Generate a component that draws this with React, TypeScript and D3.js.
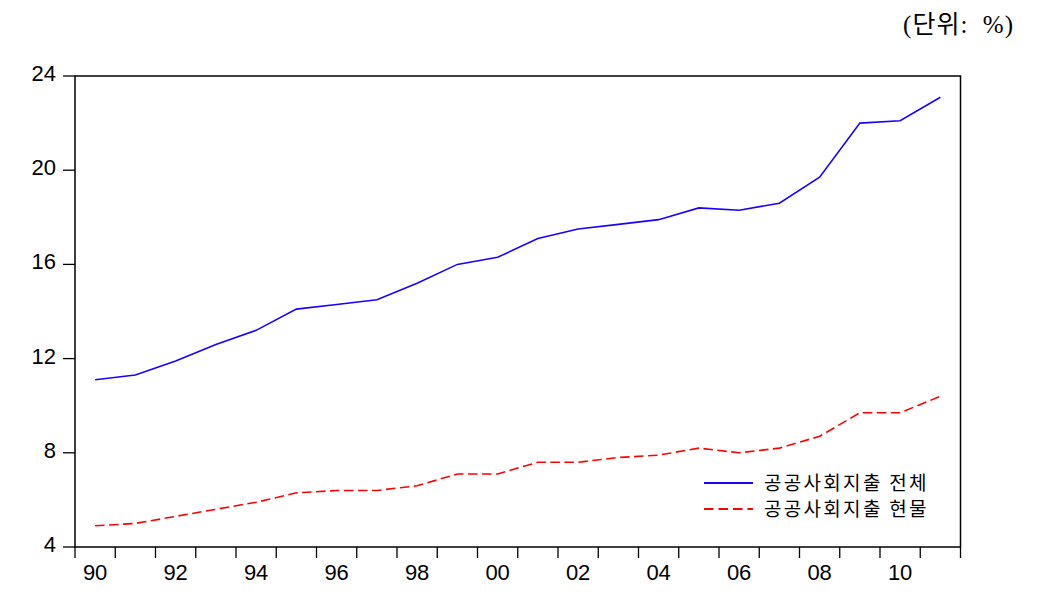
import React from "react";
import * as d3 from "d3";

const years = [1990,1991,1992,1993,1994,1995,1996,1997,1998,1999,2000,2001,2002,2003,2004,2005,2006,2007,2008,2009,2010,2011];
const totalSpend = [11.1,11.3,11.9,12.6,13.2,14.1,14.3,14.5,15.2,16.0,16.3,17.1,17.5,17.7,17.9,18.4,18.3,18.6,19.7,22.0,22.1,23.1];
const inKindSpend = [4.9,5.0,5.3,5.6,5.9,6.3,6.4,6.4,6.6,7.1,7.1,7.6,7.6,7.8,7.9,8.2,8.0,8.2,8.7,9.7,9.7,10.4];
const yTicks = [4,8,12,16,20,24];
const xLabelYears = [1990,1992,1994,1996,1998,2000,2002,2004,2006,2008,2010];
const seriesNames = ["공공사회지출 전체", "공공사회지출 현물"];
const unitLabel = "(단위:  %)";

export default function App() {
  const W = 1043, H = 613;
  const left = 75, right = 960.5, top = 76, bottom = 547;
  const x = d3.scaleLinear().domain([1990, 2012]).range([left, right]);
  const y = d3.scaleLinear().domain([4, 24]).range([bottom, top]);
  const line = d3.line<number>().x((_, i) => x(years[i] + 0.5)).y((d) => y(d));
  const boundaries = d3.range(1990, 2013);
  const font = "'Liberation Sans', Arial, sans-serif";
  const kfont = "'Noto Sans CJK KR', sans-serif";
  return (
    <svg width={W} height={H} style={{ position: "absolute", left: 0, top: 0, background: "#fff" }}>
      <rect x={0} y={0} width={W} height={H} fill="#fff" />
      <text x={1014} y={33} textAnchor="end" fontFamily="'Liberation Serif', 'Noto Sans CJK KR', serif" fontSize={25} letterSpacing={1} fill="#000" style={{ whiteSpace: "pre" }}>{unitLabel}</text>
      <rect x={left} y={top} width={right - left} height={bottom - top} fill="none" stroke="#000" strokeWidth={1.5} />
      {yTicks.map((t) => (
        <g key={t}>
          <line x1={63} x2={left} y1={y(t)} y2={y(t)} stroke="#000" strokeWidth={1.3} />
          <text x={56} y={y(t) + 5} textAnchor="end" fontFamily={font} fontSize={22} fill="#000">{t}</text>
        </g>
      ))}
      {boundaries.map((b) => (
        <line key={b} x1={x(b)} x2={x(b)} y1={bottom} y2={558} stroke="#000" strokeWidth={1.3} />
      ))}
      {xLabelYears.map((yr) => (
        <text key={yr} x={x(yr + 0.5)} y={580} textAnchor="middle" fontFamily={font} fontSize={22} fill="#000">
          {String(yr % 100).padStart(2, "0")}
        </text>
      ))}
      <path d={line(totalSpend) || ""} fill="none" stroke="#1a00ff" strokeWidth={1.6} />
      <path d={line(inKindSpend) || ""} fill="none" stroke="#ff0000" strokeWidth={1.6} strokeDasharray="9.5,4.5" />
      <line x1={704} x2={753} y1={483} y2={483} stroke="#1a00ff" strokeWidth={1.8} />
      <line x1={704} x2={753} y1={509} y2={509} stroke="#ff0000" strokeWidth={1.8} strokeDasharray="9.5,5" />
      <text x={764} y={490} fontFamily={kfont} fontSize={19} letterSpacing={2.3} fill="#000">{seriesNames[0]}</text>
      <text x={764} y={516} fontFamily={kfont} fontSize={19} letterSpacing={2.3} fill="#000">{seriesNames[1]}</text>
    </svg>
  );
}
